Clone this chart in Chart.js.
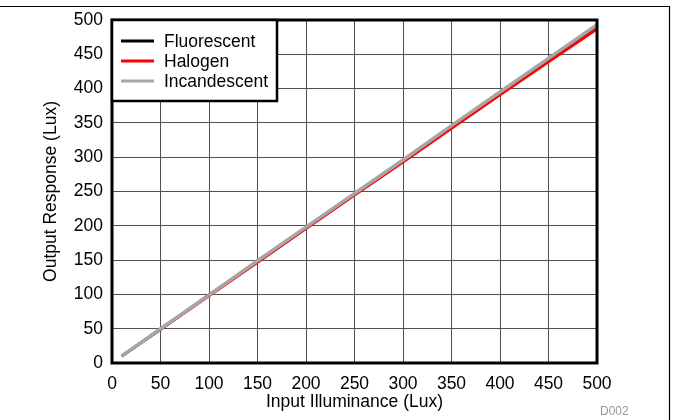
<!DOCTYPE html>
<html>
<head>
<meta charset="utf-8">
<script src="https://cdn.jsdelivr.net/npm/chart.js@4"></script>
<style>
  html, body { margin: 0; padding: 0; background: #fff; }
  #wrap { width: 673px; height: 420px; }
</style>
</head>
<body>
<div id="wrap"><canvas id="myChart" width="673" height="420"></canvas></div>
<script>
'use strict'

const inputLux = [10, 50, 100, 150, 200, 250, 300, 350, 400, 450, 500];
const fluorescent = [10, 49, 99, 148, 197, 246, 295, 344, 393, 442, 490];
const halogen = [10, 49, 98, 147, 196, 245, 293, 342, 391, 439, 487];
const incandescent = [10, 50, 99, 149, 198, 247, 296, 346, 395, 444, 493];
const seriesNames = ['Fluorescent', 'Halogen', 'Incandescent'];
const seriesColors = ['#000000', '#ff0000', '#a6a6a6'];

const FONT = 'Arial, "Liberation Sans", sans-serif';

function toPoints(ys) {
    return inputLux.map((x, i) => ({ x: x, y: ys[i] }));
}

// legend box inside the plot, frame lines and footer code
const extras = {
    id: 'extras',
    afterDraw(chart) {
        const ctx = chart.ctx;
        const area = chart.chartArea;
        ctx.save();

        // plot frame
        ctx.strokeStyle = '#000';
        ctx.lineWidth = 3;
        ctx.strokeRect(area.left, area.top, area.right - area.left, area.bottom - area.top);

        // legend
        const bx = area.left, by = area.top, bw = 165, bh = 81;
        ctx.fillStyle = '#fff';
        ctx.fillRect(bx, by, bw, bh);
        ctx.lineWidth = 2.5;
        ctx.strokeRect(bx, by, bw, bh);
        ctx.font = '17.5px ' + FONT;
        ctx.textBaseline = 'middle';
        ctx.textAlign = 'left';
        seriesNames.forEach((name, i) => {
            const y = by + 21 + i * 20;
            ctx.strokeStyle = seriesColors[i];
            ctx.lineWidth = 3;
            ctx.beginPath();
            ctx.moveTo(bx + 9, y);
            ctx.lineTo(bx + 42, y);
            ctx.stroke();
            ctx.fillStyle = '#000';
            ctx.fillText(name, bx + 52, y + 1);
        });

        // outer frame (top and right)
        ctx.strokeStyle = '#000';
        ctx.lineWidth = 1.2;
        ctx.beginPath();
        ctx.moveTo(0, 6.5);
        ctx.lineTo(669.5, 6.5);
        ctx.lineTo(669.5, 420);
        ctx.stroke();

        ctx.fillStyle = '#999';
        ctx.font = '12px ' + FONT;
        ctx.textAlign = 'left';
        ctx.fillText('D002', 600, 412);
        ctx.restore();
    }
};

const ctx = document.getElementById('myChart').getContext('2d');
new Chart(ctx, {
    type: 'line',
    data: {
        datasets: [{
            label: 'Fluorescent',
            data: toPoints(fluorescent),
            borderColor: seriesColors[0],
            borderWidth: 3,
            order: 2
        }, {
            label: 'Halogen',
            data: toPoints(halogen),
            borderColor: seriesColors[1],
            borderWidth: 3,
            order: 1
        }, {
            label: 'Incandescent',
            data: toPoints(incandescent),
            borderColor: seriesColors[2],
            borderWidth: 3.5,
            order: 0
        }]
    },
    options: {
        responsive: false,
        animation: false,
        events: [],
        elements: { point: { radius: 0 }, line: { tension: 0 } },
        layout: { padding: { left: 0, top: 20, right: 76, bottom: 0 } },
        plugins: { legend: { display: false }, tooltip: { enabled: false } },
        scales: {
            x: {
                type: 'linear',
                min: 0,
                max: 500,
                ticks: { stepSize: 50, color: '#000', padding: 11, font: { family: FONT, size: 17.5 } },
                grid: { color: '#505050', lineWidth: 1, drawTicks: false },
                border: { display: false },
                title: {
                    display: true,
                    text: 'Input Illuminance (Lux)',
                    color: '#000',
                    font: { family: FONT, size: 17.5 },
                    padding: { top: 0, bottom: 7 }
                },
                afterFit(scale) { scale.height = 57; }
            },
            y: {
                type: 'linear',
                min: 0,
                max: 500,
                ticks: { stepSize: 50, color: '#000', padding: 9, font: { family: FONT, size: 17.5 } },
                grid: { color: '#505050', lineWidth: 1, drawTicks: false },
                border: { display: false },
                title: {
                    display: true,
                    text: 'Output Response (Lux)',
                    color: '#000',
                    font: { family: FONT, size: 17.5 },
                    padding: { top: 41, bottom: 0 }
                },
                afterFit(scale) { scale.width = 112; }
            }
        }
    },
    plugins: [extras]
});
</script>
</body>
</html>
